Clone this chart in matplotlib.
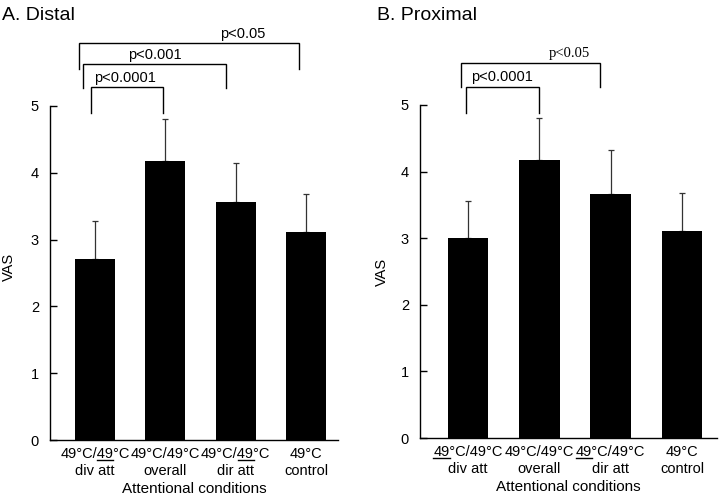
import matplotlib
matplotlib.use("Agg")
import matplotlib.pyplot as plt
from matplotlib.lines import Line2D

plt.rcParams['font.family'] = ['Liberation Sans', 'DejaVu Sans']

# ---- data ----
distal_labels = ['49°C/49°C\ndiv att', '49°C/49°C\noverall', '49°C/49°C\ndir att', '49°C\ncontrol']
distal_underline = [(5, 7), None, (5, 7), None]      # underlined chars in first line
proximal_labels = ['49°C/49°C\ndiv att', '49°C/49°C\noverall', '49°C/49°C\ndir att', '49°C\ncontrol']
proximal_underline = [(0, 2), None, (0, 2), None]
distal_means = [2.71, 4.17, 3.56, 3.11]
distal_err = [0.57, 0.63, 0.58, 0.57]
proximal_means = [3.00, 4.17, 3.67, 3.11]
proximal_err = [0.56, 0.64, 0.65, 0.57]

# comparisons: (bar_a, bar_b, label)
distal_cmp = [(0, 1, 'p<0.0001'), (0, 2, 'p<0.001'), (0, 3, 'p<0.05')]
proximal_cmp = [(0, 1, 'p<0.0001'), (0, 2, 'p<0.05')]

fig = plt.figure(figsize=(7.2, 4.95), dpi=100)
axA = fig.add_axes([50/720, 1-440/495, 288/720, 334/495])
axB = fig.add_axes([420/720, 1-438/495, 297/720, 333/495])


def style(ax, labels, xlim, ylab_xy):
    ax.set_xlim(*xlim)
    ax.set_ylim(0, 5)
    ax.spines['top'].set_visible(False)
    ax.spines['right'].set_visible(False)
    ax.spines['left'].set_linewidth(1.0)
    ax.spines['bottom'].set_linewidth(1.0)
    ax.set_yticks([0, 1, 2, 3, 4, 5])
    ax.tick_params(axis='y', direction='in', length=5, width=1, labelsize=10.5, pad=8)
    ax.set_xticks(range(len(labels)))
    ax.set_xticklabels(labels, fontsize=10.5, linespacing=1.25)
    ax.tick_params(axis='x', length=0, pad=5)
    ax.set_ylabel('VAS', fontsize=10.5)
    ax.yaxis.set_label_coords(*ylab_xy)
    ax.set_xlabel('Attentional conditions', fontsize=11, labelpad=3)


def bars(ax, means, err):
    x = range(len(means))
    ax.bar(x, means, width=0.57, color='black', zorder=2)
    ax.errorbar(x, means, yerr=[[0]*len(err), err], fmt='none', ecolor='#333333',
                elinewidth=0.9, capsize=2.0, capthick=0.9, zorder=1)


bars(axA, distal_means, distal_err)
bars(axB, proximal_means, proximal_err)
style(axA, distal_labels, (-0.64, 3.455), (-0.118, 0.518))
style(axB, proximal_labels, (-0.673, 3.49), (-0.104, 0.498))


def bracket(ax, x0, x1, ytop, ybot0, ybot1, text, tx, ty, family=None):
    ax.plot([x0, x0, x1, x1], [ybot0, ytop, ytop, ybot1], color='black', lw=1.0,
            clip_on=False, solid_joinstyle='miter')
    kw = dict(ha='center', va='bottom', fontsize=10.5)
    if family:
        kw['family'] = family
    ax.text(tx, ty, text, clip_on=False, **kw)


# Distal brackets (positions in data units relative to bars)
bracket(axA, distal_cmp[2][0]-0.23, distal_cmp[2][1]-0.10, 5.94, 5.55, 5.55, distal_cmp[2][2], 2.1, 5.97)
bracket(axA, distal_cmp[1][0]-0.17, distal_cmp[1][1]-0.14, 5.63, 5.27, 5.27, distal_cmp[1][2], 0.85, 5.66)
bracket(axA, distal_cmp[0][0]-0.06, distal_cmp[0][1]-0.03, 5.28, 4.90, 4.90, distal_cmp[0][2], 0.43, 5.31)

# Proximal brackets
bracket(axB, proximal_cmp[1][0]-0.10, proximal_cmp[1][1]-0.15, 5.63, 5.27, 5.27, proximal_cmp[1][2], 1.42, 5.68,
        family='Liberation Serif')
bracket(axB, proximal_cmp[0][0]-0.03, proximal_cmp[0][1]+0.0, 5.27, 4.88, 4.88, proximal_cmp[0][2], 0.48, 5.31)

fig.text(2/720, 1-15/495, 'A. Distal', fontsize=14, ha='left', va='center')
fig.text(377/720, 1-15/495, 'B. Proximal', fontsize=14, ha='left', va='center')

# underline parts of tick labels
fig.canvas.draw()
renderer = fig.canvas.get_renderer()
inv = fig.transFigure.inverted()
for ax, unders in ((axA, distal_underline), (axB, proximal_underline)):
    for lbl, u in zip(ax.get_xticklabels(), unders):
        if u is None:
            continue
        bb = lbl.get_window_extent(renderer)
        prop = lbl.get_fontproperties()
        line1 = lbl.get_text().split('\n')[0]
        w1, _, _ = renderer.get_text_width_height_descent(line1, prop, False)
        wpre, _, _ = renderer.get_text_width_height_descent(line1[:u[0]], prop, False) if u[0] > 0 else (0, 0, 0)
        wseg, _, _ = renderer.get_text_width_height_descent(line1[u[0]:u[1]], prop, False)
        _, hlp, dlp = renderer.get_text_width_height_descent('lp', prop, False)
        cx = (bb.x0 + bb.x1) / 2
        xs = cx - w1 / 2 + wpre
        yb = bb.y1 - (hlp - dlp) - 2.5
        p0 = inv.transform((xs, yb))
        p1 = inv.transform((xs + wseg, yb))
        fig.add_artist(Line2D([p0[0], p1[0]], [p0[1], p1[1]], color='black', lw=1.0,
                              transform=fig.transFigure))

fig.savefig('out.png', dpi=100)
